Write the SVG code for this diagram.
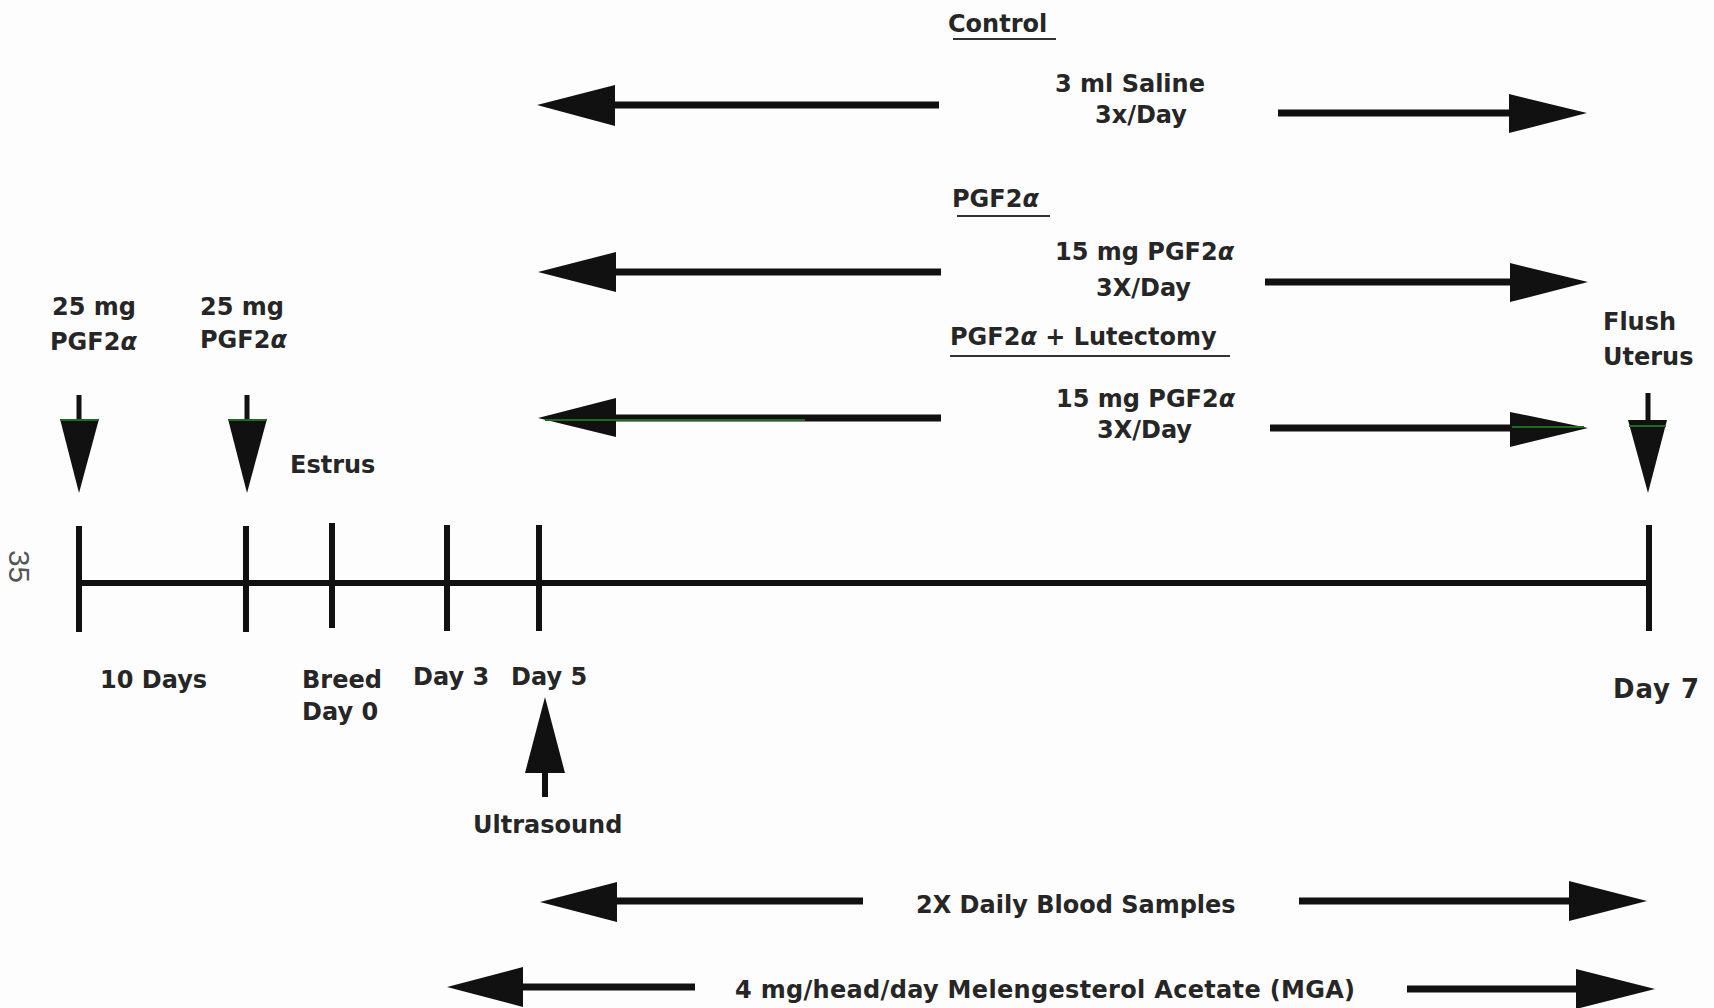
<svg xmlns="http://www.w3.org/2000/svg" width="1714" height="1008" viewBox="0 0 1714 1008">
<style>
text{font-family:"DejaVu Sans","Liberation Sans",sans-serif;font-weight:bold;font-size:24px;fill:#262626}
.i{font-style:italic}
.hd{fill:#111}
.sh{stroke:#111;stroke-width:7;stroke-linecap:butt}
.ul{stroke:#333;stroke-width:2}
.tl{stroke:#111;stroke-width:6}
.gr{stroke:#1e6a1e;stroke-width:2}
.pg{font-family:"Liberation Sans",sans-serif;font-weight:normal;font-size:30px;fill:#555}
</style>
<rect width="1714" height="1008" fill="#fdfdfd"/>
<text class="pg" transform="translate(9,550) rotate(90)" textLength="33" lengthAdjust="spacingAndGlyphs">35</text>

<g id="timeline">
<line class="tl" x1="79" y1="583" x2="1649" y2="583"/>
<line class="tl" x1="79" y1="526" x2="79" y2="632"/>
<line class="tl" x1="246" y1="526" x2="246" y2="632"/>
<line class="tl" x1="332" y1="523" x2="332" y2="628"/>
<line class="tl" x1="447" y1="525" x2="447" y2="631"/>
<line class="tl" x1="539" y1="525" x2="539" y2="631"/>
<line class="tl" x1="1649" y1="525" x2="1649" y2="631"/>
<text x="100" y="688">10 Days</text>
<text x="302" y="688">Breed</text>
<text x="302" y="720">Day 0</text>
<text x="413" y="685">Day 3</text>
<text x="511" y="685">Day 5</text>
<text x="1613" y="698" style="font-size:26px" textLength="86">Day 7</text>
</g>

<g id="inj1">
<text x="52" y="315">25 mg</text>
<text x="50" y="350">PGF2<tspan class="i">α</tspan></text>
<line class="sh" x1="79" y1="395" x2="79" y2="420" style="stroke-width:5"/>
<polygon class="hd" points="60,419 99,419 79,493"/>
<line class="gr" x1="61" y1="420" x2="98" y2="420"/>
</g>

<g id="inj2">
<text x="200" y="315">25 mg</text>
<text x="200" y="348">PGF2<tspan class="i">α</tspan></text>
<line class="sh" x1="247" y1="395" x2="247" y2="420" style="stroke-width:5"/>
<polygon class="hd" points="228,419 267,419 247,493"/>
<line class="gr" x1="229" y1="420" x2="266" y2="420"/>
<text x="290" y="473">Estrus</text>
</g>

<g id="flush">
<text x="1603" y="330">Flush</text>
<text x="1603" y="365">Uterus</text>
<line class="sh" x1="1648" y1="393" x2="1648" y2="421" style="stroke-width:5"/>
<polygon class="hd" points="1628,420 1667,420 1648,493"/>
<line class="gr" x1="1629" y1="426" x2="1666" y2="426"/>
</g>

<g id="ultrasound">
<polygon class="hd" points="545,697 565,773 525,773"/>
<line class="sh" x1="545" y1="772" x2="545" y2="797" style="stroke-width:6"/>
<text x="473" y="833">Ultrasound</text>
</g>

<g id="control">
<text x="948" y="32">Control</text>
<line class="ul" x1="953" y1="39" x2="1056" y2="39"/>
<text x="1055" y="92">3 ml Saline</text>
<text x="1095" y="123">3x/Day</text>
</g>

<g id="pgf">
<text x="952" y="207">PGF2<tspan class="i">α</tspan></text>
<line class="ul" x1="957" y1="216" x2="1050" y2="216"/>
<text x="1055" y="260">15 mg PGF2<tspan class="i">α</tspan></text>
<text x="1096" y="296">3X/Day</text>
</g>

<g id="lutectomy">
<text x="950" y="345">PGF2<tspan class="i">α</tspan> + Lutectomy</text>
<line class="ul" x1="950" y1="356" x2="1230" y2="356"/>
<text x="1056" y="407">15 mg PGF2<tspan class="i">α</tspan></text>
<text x="1097" y="438">3X/Day</text>
</g>

<g id="blood">
<text x="916" y="913">2X Daily Blood Samples</text>
</g>

<g id="mga">
<text x="735" y="998" textLength="620">4 mg/head/day Melengesterol Acetate (MGA)</text>
</g>

<g id="connectors">
<line class="sh" x1="612" y1="105" x2="939" y2="105"/>
<polygon class="hd" points="537,105 615,85 615,126"/>
<line class="sh" x1="1278" y1="113" x2="1512" y2="113"/>
<polygon class="hd" points="1509,94 1587,113 1509,133"/>

<line class="sh" x1="613" y1="272" x2="941" y2="272"/>
<polygon class="hd" points="538,272 616,252 616,292"/>
<line class="sh" x1="1265" y1="282" x2="1513" y2="282"/>
<polygon class="hd" points="1510,263 1588,282 1510,302"/>

<line class="sh" x1="613" y1="418" x2="941" y2="418"/>
<polygon class="hd" points="538,418 616,398 616,437"/>
<line class="gr" x1="545" y1="420" x2="805" y2="420"/>
<line class="sh" x1="1270" y1="428" x2="1513" y2="428"/>
<polygon class="hd" points="1510,412 1588,428 1510,447"/>
<line class="gr" x1="1512" y1="427" x2="1584" y2="427"/>

<line class="sh" x1="614" y1="901" x2="863" y2="901"/>
<polygon class="hd" points="540,902 617,882 617,922"/>
<line class="sh" x1="1299" y1="901" x2="1572" y2="901"/>
<polygon class="hd" points="1569,881 1647,901 1569,921"/>

<line class="sh" x1="520" y1="987" x2="695" y2="987"/>
<polygon class="hd" points="447,987 523,967 523,1007"/>
<line class="sh" x1="1407" y1="989" x2="1579" y2="989"/>
<polygon class="hd" points="1576,969 1655,989 1576,1009"/>
</g>
</svg>
